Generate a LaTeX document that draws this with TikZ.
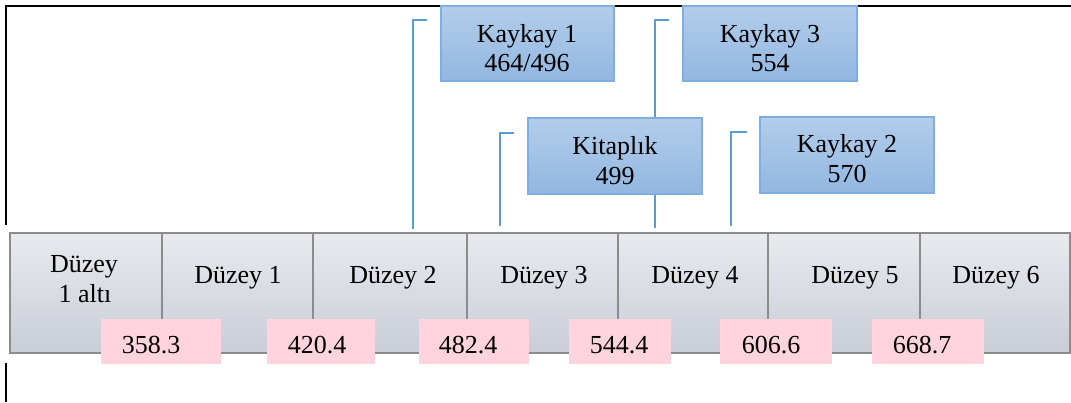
\documentclass[tikz,border=0pt]{standalone}
\usepackage{fontspec}
\setmainfont{Liberation Serif}
\definecolor{celledge}{HTML}{8C8C8C}
\definecolor{celltop}{HTML}{E8EAEF}
\definecolor{cellbot}{HTML}{C9CDD6}
\definecolor{bluetop}{HTML}{B3CDEA}
\definecolor{bluebot}{HTML}{92B7E1}
\definecolor{blueedge}{HTML}{7FAEE0}
\definecolor{wire}{HTML}{5B9BD5}
\definecolor{pinkfill}{HTML}{FFD4DF}
\begin{document}
\begin{tikzpicture}[x=0.5pt,y=-0.5pt,
  every node/.style={inner sep=0pt, outer sep=0pt},
  txt/.style={font=\fontsize{13}{15}\selectfont, anchor=base},
  frameline/.style={black, line width=0.8pt},
  wireline/.style={wire, line width=0.6pt},
  bluebox/.style={draw=blueedge, line width=0.6pt, top color=bluetop, bottom color=bluebot,
    minimum width=87pt, minimum height=37.5pt},
  cell/.style={draw=celledge, line width=0.8pt, top color=celltop, bottom color=cellbot,
    minimum height=60pt},
  pinkbox/.style={fill=pinkfill, minimum height=22.5pt}]
\useasboundingbox (0,0) rectangle (1071,402);

% outer frame
\coordinate (fa) at (6,225);
\coordinate (fb) at (6,6);
\coordinate (fc) at (1071,6);
\coordinate (fd) at (6,363);
\coordinate (fe) at (6,402);
\draw[frameline] (fa) -- (fb) -- (fc);
\draw[frameline] (fd) -- (fe);

% bracket connectors
\coordinate (w1a) at (427,20);  \coordinate (w1b) at (413,229);
\coordinate (w2a) at (514,133); \coordinate (w2b) at (500,226);
\coordinate (w3a) at (669,20);  \coordinate (w3b) at (655,228);
\coordinate (w4a) at (747,132); \coordinate (w4b) at (731,226);
\draw[wireline] (w1a) -| (w1b);
\draw[wireline] (w2a) -| (w2b);
\draw[wireline] (w3a) -| (w3b);
\draw[wireline] (w4a) -| (w4b);

% item boxes
\node[bluebox, minimum width=86.5pt] (k1) at (527.5,43.5) {};
\node[bluebox] (k3) at (770,43.5) {};
\node[bluebox, minimum height=38pt] (kit) at (615,156) {};
\node[bluebox, minimum height=38pt] (k2) at (847,155) {};
\node[txt] (k1t) at (527,42) {Kaykay 1};
\node[txt] (k1n) at (527,71) {464/496};
\node[txt] (k3t) at (770,42) {Kaykay 3};
\node[txt] (k3n) at (770,71) {554};
\node[txt] (kitt) at (615,154) {Kitaplık};
\node[txt] (kitn) at (615,184) {499};
\node[txt] (k2t) at (847,152) {Kaykay 2};
\node[txt] (k2n) at (847,182) {570};

% level strip
\node[cell, minimum width=76pt]   (c0) at (86,293) {};
\node[cell, minimum width=75.5pt] (c1) at (237.5,293) {};
\node[cell, minimum width=77pt]   (c2) at (390,293) {};
\node[cell, minimum width=75.5pt] (c3) at (542.5,293) {};
\node[cell, minimum width=75pt]   (c4) at (693,293) {};
\node[cell, minimum width=76pt]   (c5) at (844,293) {};
\node[cell, minimum width=75pt]   (c6) at (995,293) {};
\node[txt] (c0a) at (84,272) {Düzey};
\node[txt] (c0b) at (85,302) {1 altı};
\node[txt] (c1t) at (238,283) {Düzey 1};
\node[txt] (c2t) at (393,283) {Düzey 2};
\node[txt] (c3t) at (544,283) {Düzey 3};
\node[txt] (c4t) at (695,283) {Düzey 4};
\node[txt] (c5t) at (855,283) {Düzey 5};
\node[txt] (c6t) at (996,283) {Düzey 6};

% boundary heights
\node[pinkbox, minimum width=60pt] (p1) at (161,341.5) {};
\node[pinkbox, minimum width=54pt] (p2) at (321,341.5) {};
\node[pinkbox, minimum width=55pt] (p3) at (474,341.5) {};
\node[pinkbox, minimum width=51pt] (p4) at (620,341.5) {};
\node[pinkbox, minimum width=56pt] (p5) at (776,341.5) {};
\node[pinkbox, minimum width=56pt] (p6) at (928,341.5) {};
\node[txt] (p1t) at (151,353) {358.3};
\node[txt] (p2t) at (317,353) {420.4};
\node[txt] (p3t) at (468,353) {482.4};
\node[txt] (p4t) at (619,353) {544.4};
\node[txt] (p5t) at (771,353) {606.6};
\node[txt] (p6t) at (922,353) {668.7};
\end{tikzpicture}
\end{document}
